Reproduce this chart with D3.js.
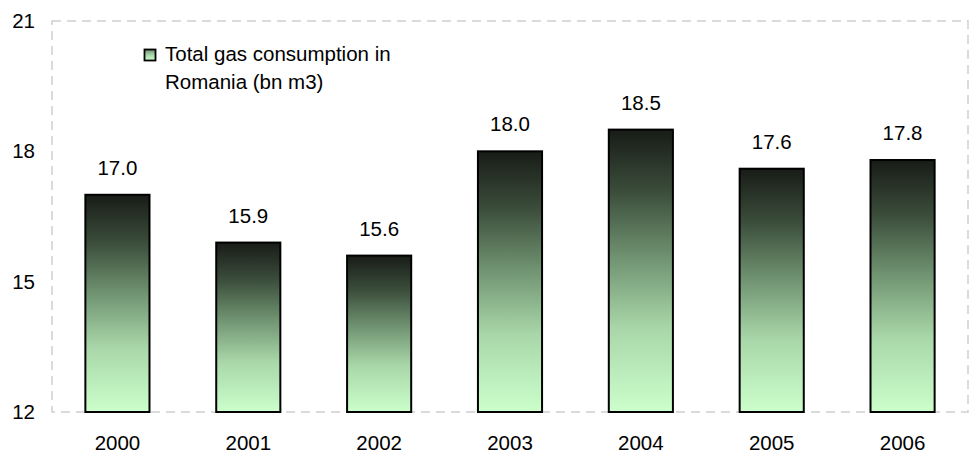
<!DOCTYPE html>
<html>
<head>
<meta charset="utf-8">
<script src="https://cdn.jsdelivr.net/npm/d3@7/dist/d3.min.js"></script>
<style>
  html, body { margin: 0; padding: 0; background: #ffffff; }
  svg { display: block; font-family: "Liberation Sans", Arial, sans-serif; }
</style>
</head>
<body>
<div id="chart"></div>
<script>
// Annual totals, billion cubic metres
const years = ["2000", "2001", "2002", "2003", "2004", "2005", "2006"];
const consumption = [17.0, 15.9, 15.6, 18.0, 18.5, 17.6, 17.8];
const yTicks = [12, 15, 18, 21];
const legendLines = ["Total gas consumption in", "Romania (bn m3)"];

const width = 973, height = 457;
const margin = { top: 21, right: 5, bottom: 45, left: 52 };
const innerW = width - margin.left - margin.right;
const innerH = height - margin.top - margin.bottom;
const fontSize = 20.5;

const svg = d3.select("#chart").append("svg")
  .attr("width", width).attr("height", height);

const defs = svg.append("defs");
function addGradient(id, stops) {
  const gr = defs.append("linearGradient")
    .attr("id", id)
    .attr("x1", 0).attr("y1", 0).attr("x2", 0).attr("y2", 1);
  stops.forEach(([o, c]) => gr.append("stop").attr("offset", o).attr("stop-color", c));
}
addGradient("barFill", [
  [0, "#181c17"],
  [0.22, "#3b4d3b"],
  [0.45, "#6f9270"],
  [0.7, "#a8d6a8"],
  [1, "#ccffcc"]
]);
addGradient("keyFill", [
  [0, "#6f8f6f"],
  [0.5, "#a8d6a8"],
  [1, "#ccffcc"]
]);

const g = svg.append("g").attr("transform", `translate(${margin.left},${margin.top})`);

const x = d3.scaleBand().domain(years).range([0, innerW]).paddingInner(0.51).paddingOuter(0.255);
const y = d3.scaleLinear().domain([12, 21]).range([innerH, 0]);

// Plot-area frame
g.append("rect")
  .attr("x", 0).attr("y", 0)
  .attr("width", innerW).attr("height", innerH)
  .attr("fill", "none")
  .attr("stroke", "#cfcfcf")
  .attr("stroke-width", 1.5)
  .attr("stroke-dasharray", "9,6");

// Y axis labels
const yAxis = d3.axisLeft(y).tickValues(yTicks).tickSize(0).tickPadding(17).tickFormat(d3.format("d"));
g.append("g").call(yAxis)
  .call(s => s.select(".domain").remove())
  .selectAll("text")
  .attr("font-size", fontSize).attr("fill", "#000")
  .attr("font-family", "Liberation Sans, Arial, sans-serif");

// X axis labels
const xAxis = d3.axisBottom(x).tickSize(0).tickPadding(23);
g.append("g").attr("transform", `translate(0,${innerH})`).call(xAxis)
  .call(s => s.select(".domain").remove())
  .selectAll("text")
  .attr("font-size", fontSize).attr("fill", "#000")
  .attr("font-family", "Liberation Sans, Arial, sans-serif");

// Bars
g.selectAll("rect.bar").data(consumption).enter().append("rect")
  .attr("class", "bar")
  .attr("x", (d, i) => x(years[i]))
  .attr("y", d => y(d))
  .attr("width", x.bandwidth())
  .attr("height", d => innerH - y(d))
  .attr("fill", "url(#barFill)")
  .attr("stroke", "#000")
  .attr("stroke-width", 2);

// Value labels
g.selectAll("text.val").data(consumption).enter().append("text")
  .attr("class", "val")
  .attr("x", (d, i) => x(years[i]) + x.bandwidth() / 2)
  .attr("y", d => y(d) - 20)
  .attr("text-anchor", "middle")
  .attr("font-size", fontSize)
  .attr("fill", "#000")
  .text(d => d3.format(".1f")(d));

// Legend
const lg = svg.append("g").attr("transform", "translate(144,49)");
lg.append("rect")
  .attr("x", 0.5).attr("y", 0.5).attr("width", 11).attr("height", 11)
  .attr("fill", "url(#keyFill)").attr("stroke", "#000").attr("stroke-width", 1.8);
lg.selectAll("text").data(legendLines).enter().append("text")
  .attr("x", 21)
  .attr("y", (d, i) => 12 + i * 28)
  .attr("font-size", fontSize)
  .attr("fill", "#000")
  .text(d => d);
</script>
</body>
</html>
